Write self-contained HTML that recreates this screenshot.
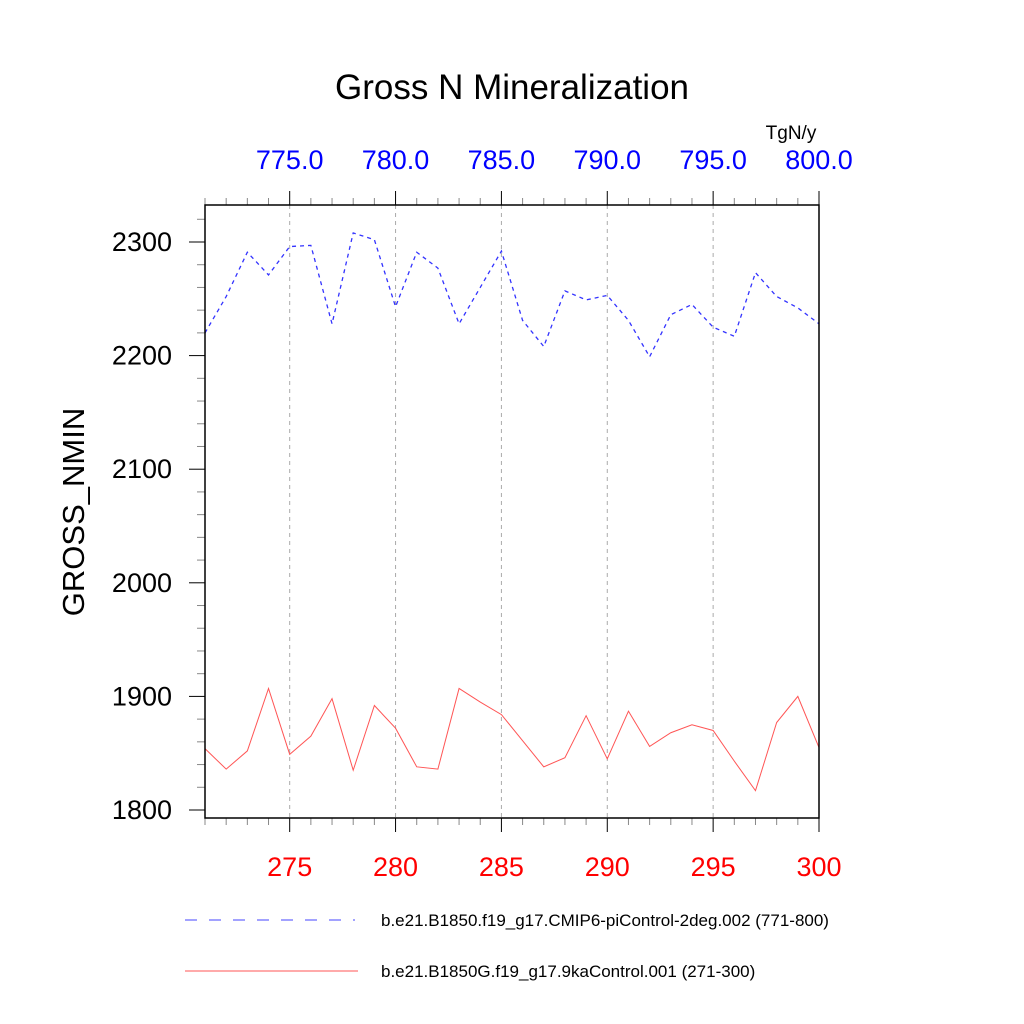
<!DOCTYPE html>
<html><head><meta charset="utf-8"><style>
body{margin:0;background:#fff;}
svg{display:block;font-family:"Liberation Sans",sans-serif;}
</style></head><body>
<svg id="chart" width="1024" height="1024" viewBox="0 0 1024 1024">
<text x="512" y="99" font-size="35" text-anchor="middle">Gross N Mineralization</text>
<text x="791" y="139" font-size="19" text-anchor="middle">TgN/y</text>
<text transform="translate(84,512) rotate(-90)" font-size="31" text-anchor="middle">GROSS_NMIN</text>
<g id="grid"></g>
<g id="ticks"></g>
<g id="series"></g>
<rect x="205" y="205" width="614" height="613" fill="none" stroke="#000" stroke-width="1.5"/>
<line x1="185" y1="920" x2="355" y2="920" stroke="#4444ff" stroke-width="1" stroke-dasharray="12,12"/>
<text x="381" y="926" font-size="17">b.e21.B1850.f19_g17.CMIP6-piControl-2deg.002 (771-800)</text>
<line x1="185" y1="971" x2="358" y2="971" stroke="#ff5555" stroke-width="1"/>
<text x="381" y="977" font-size="17">b.e21.B1850G.f19_g17.9kaControl.001 (271-300)</text>
</svg>
<script>
const years=[271,272,273,274,275,276,277,278,279,280,281,282,283,284,285,286,287,288,289,290,291,292,293,294,295,296,297,298,299,300];
const blueVals=[2220,2252,2291,2271,2296,2297,2228,2308,2302,2243,2291,2277,2228,2260,2292,2231,2208,2257,2249,2253,2231,2199,2236,2245,2225,2217,2273,2252,2242,2228];
const redVals=[1854,1836,1852,1907,1849,1865,1898,1835,1892,1872,1838,1836,1907,1895,1884,1861,1838,1846,1883,1845,1887,1856,1868,1875,1870,1843,1817,1877,1900,1855];
const bottomTicks=[275,280,285,290,295,300];
const topTickLabels=["775.0","780.0","785.0","790.0","795.0","800.0"];
const yTicks=[1800,1900,2000,2100,2200,2300];
const NS='http://www.w3.org/2000/svg';
const X=v=>205+(v-271)*(614/29);
const Y=v=>242+(2300-v)*(568/500);
function mk(t,a,p){const e=document.createElementNS(NS,t);for(const k in a)e.setAttribute(k,a[k]);p.appendChild(e);return e;}
const grid=document.getElementById('grid'),ticks=document.getElementById('ticks'),series=document.getElementById('series');
bottomTicks.forEach((t,i)=>{
  if(t<300){const g=mk('line',{x1:X(t),x2:X(t),y1:205,y2:818,stroke:'#aaa','stroke-dasharray':'4,4','stroke-width':1},grid);
  
  }
  const b=mk('text',{x:X(t),y:876,'font-size':27,fill:'#ff0000','text-anchor':'middle'},ticks);b.textContent=t;
  
  
  const tp=mk('text',{x:X(t),y:169,'font-size':27,fill:'#0000ff','text-anchor':'middle'},ticks);tp.textContent=topTickLabels[i];
  
  
});
for(let y=271;y<=300;y++){
  const maj=bottomTicks.includes(y);const L=maj?14:7;
  mk('line',{x1:X(y),x2:X(y),y1:205,y2:205-L,stroke:maj?'#000':'#888','stroke-width':1},ticks);
  mk('line',{x1:X(y),x2:X(y),y1:818,y2:818+L,stroke:maj?'#000':'#888','stroke-width':1},ticks);
}
for(let v=1800;v<=2320;v+=20){
  const maj=v%100===0;const L=maj?16:8;
  mk('line',{x1:205,x2:205-L,y1:Y(v),y2:Y(v),stroke:maj?'#000':'#888','stroke-width':1},ticks);
}
yTicks.forEach(v=>{const t=mk('text',{x:172,y:Y(v)+9,'font-size':27,'text-anchor':'end'},ticks);t.textContent=v;
  
  });
const bp=mk('polyline',{points:years.map((y,i)=>X(y)+','+Y(blueVals[i])).join(' '),fill:'none',stroke:'#3333ff','stroke-width':1.3,'stroke-dasharray':'4,4'},series);


const rp=mk('polyline',{points:years.map((y,i)=>X(y)+','+Y(redVals[i])).join(' '),fill:'none',stroke:'#ff5555','stroke-width':1},series);


</script>
</body></html>
